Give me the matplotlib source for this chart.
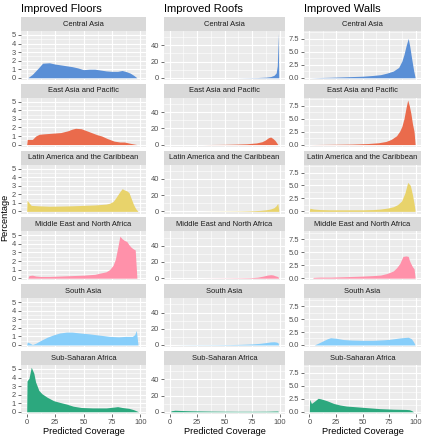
import matplotlib.pyplot as plt

plt.rcParams['font.family'] = ['Liberation Sans', 'DejaVu Sans']

regions = ["Central Asia", "East Asia and Pacific", "Latin America and the Caribbean",
           "Middle East and North Africa", "South Asia", "Sub-Saharan Africa"]
region_colors = ["#5A8FD6", "#EA6B4C", "#E8D36B", "#FF91AA", "#87CEFA", "#2CA87E"]

# ---- Improved Floors
fl_ca_x = [1, 5, 10, 14, 20, 25, 30, 35, 40, 45, 50, 55, 60, 65, 70, 75, 80, 84, 88, 91, 94, 97]
fl_ca_y = [0, 0.4, 1.1, 1.7, 1.75, 1.6, 1.5, 1.4, 1.3, 1.15, 0.95, 1.0, 1.0, 0.9, 0.8, 0.75, 0.75, 0.85, 0.7, 0.55, 0.3, 0]
fl_ea_x = [0, 0.5, 5, 8, 11, 15, 20, 25, 30, 36, 40, 43, 48, 53, 58, 62, 66, 71, 77, 82, 86, 91, 97]
fl_ea_y = [0, 0.6, 0.6, 1.0, 1.2, 1.25, 1.3, 1.35, 1.4, 1.6, 1.8, 1.9, 1.85, 1.6, 1.35, 1.15, 1.0, 0.7, 0.4, 0.3, 0.3, 0.15, 0]
fl_la_x = [0, 0.3, 2, 4, 10, 20, 30, 40, 50, 60, 65, 70, 73, 76, 78, 80, 82, 84, 86, 88, 90, 92, 94, 96, 98]
fl_la_y = [0, 1.3, 1.0, 0.7, 0.65, 0.6, 0.62, 0.65, 0.7, 0.75, 0.8, 0.85, 0.95, 1.15, 1.5, 1.9, 2.3, 2.65, 2.5, 2.4, 2.2, 1.5, 0.8, 0.3, 0]
fl_me_x = [1, 2, 5, 8, 12, 20, 30, 40, 50, 55, 60, 65, 70, 73, 76, 78, 80, 82, 84, 86, 88, 90, 92, 94, 95.5, 97]
fl_me_y = [0, 0.3, 0.35, 0.25, 0.2, 0.2, 0.25, 0.3, 0.35, 0.4, 0.45, 0.6, 0.75, 1.0, 1.5, 2.2, 3.5, 4.9, 4.6, 4.4, 4.3, 3.9, 3.6, 3.4, 3.3, 0]
fl_sa_x = [0, 0.5, 3, 5, 8, 12, 18, 24, 29, 35, 40, 47, 55, 64, 73, 81, 87, 93, 95, 96.5, 98]
fl_sa_y = [0, 0.35, 0.2, 0.05, 0.2, 0.5, 0.9, 1.2, 1.4, 1.5, 1.5, 1.4, 1.3, 1.15, 1.0, 0.95, 1.0, 1.0, 1.2, 1.7, 0]
fl_ssa_x = [0, 0.3, 2, 4, 6.3, 7.8, 10.7, 13.5, 18, 23.6, 29, 35, 41, 48, 58, 70, 77, 80, 84, 90, 94, 98.5]
fl_ssa_y = [0, 3.6, 3.9, 5.2, 4.5, 3.5, 2.5, 2.1, 1.7, 1.3, 1.1, 0.9, 0.65, 0.5, 0.45, 0.45, 0.55, 0.6, 0.5, 0.4, 0.25, 0]

# ---- Improved Roofs
rf_ca_x = [60, 80, 88, 92, 95, 97, 98, 98.8, 99.3]
rf_ca_y = [0, 0.3, 0.8, 1.5, 3, 6, 15, 55, 0]
rf_ea_x = [30, 50, 60, 70, 79, 84, 87, 90, 92, 94, 96, 97.5, 98.5]
rf_ea_y = [0, 0.3, 0.6, 1.0, 2.0, 3.5, 5.5, 8.5, 9.3, 7.5, 5, 2, 0]
rf_la_x = [30, 50, 65, 75, 82, 88, 92, 95, 97, 98.4, 99.5]
rf_la_y = [0, 0.2, 0.4, 0.7, 1.2, 2.0, 3.0, 4.5, 7, 10, 0]
rf_me_x = [30, 50, 65, 74, 80, 85, 89, 92, 94, 96, 98.4, 99.5]
rf_me_y = [0, 0.2, 0.4, 0.6, 1.2, 2.5, 3.8, 4.3, 4.0, 3.0, 2.0, 0]
rf_sa_x = [5, 20, 40, 55, 65, 75, 82, 88, 92, 95, 97, 98.5, 99.3]
rf_sa_y = [0, 0.2, 0.3, 0.5, 0.8, 1.3, 2.0, 3.0, 3.8, 4.0, 3.6, 3.0, 0]
rf_ssa_x = [1, 1.5, 5, 10, 20, 30, 40, 50, 60, 70, 80, 90, 95, 98.5, 99]
rf_ssa_y = [0, 1.2, 1.9, 1.6, 1.2, 1.0, 0.8, 0.7, 0.6, 0.6, 0.6, 0.7, 0.9, 1.0, 0]

# ---- Improved Walls
wl_ca_x = [0, 10, 20, 35, 50, 60, 67, 73, 79, 84, 87, 89, 91, 93, 94.5, 96, 98, 99.5]
wl_ca_y = [0, 0.05, 0.1, 0.2, 0.3, 0.45, 0.6, 0.9, 1.3, 2.0, 3.2, 4.5, 6.2, 7.6, 6.0, 4.0, 1.5, 0]
wl_ea_x = [0, 20, 40, 55, 65, 72, 77, 82, 85, 87, 89, 91, 92.5, 94, 95.5, 97, 98.5, 99.5]
wl_ea_y = [0, 0.05, 0.1, 0.2, 0.35, 0.6, 1.0, 1.7, 2.6, 3.5, 5.0, 7.2, 8.6, 7.5, 6.0, 4.0, 2.5, 0]
wl_la_x = [0, 0.5, 4, 10, 20, 35, 50, 60, 67, 74, 79, 83, 86.7, 89.8, 92.5, 95, 97, 98.5, 99.5]
wl_la_y = [0, 0.6, 0.45, 0.35, 0.3, 0.3, 0.3, 0.35, 0.45, 0.65, 0.9, 1.3, 2.0, 3.5, 5.6, 5.0, 3.2, 1.5, 0]
wl_me_x = [3, 4, 10, 20, 36, 50, 60, 67, 73, 79, 82, 85, 88, 91, 93, 94, 95, 97, 98.5, 99.5]
wl_me_y = [0, 0.15, 0.2, 0.2, 0.3, 0.4, 0.5, 0.6, 0.9, 1.4, 2.0, 2.8, 4.2, 4.3, 4.2, 3.5, 3.0, 2.2, 1.8, 0]
wl_sa_x = [4.6, 8, 11, 14, 17, 20, 25, 32, 40, 50, 60, 70, 76, 85, 90, 93, 96, 98, 99.5]
wl_sa_y = [0, 0.3, 0.6, 0.9, 1.2, 1.4, 1.3, 1.05, 0.95, 0.9, 0.9, 1.0, 1.1, 1.35, 1.45, 1.5, 1.2, 0.6, 0]
wl_ssa_x = [0, 0.3, 2, 4.6, 8.3, 10.8, 14, 17, 23, 29, 35, 41.7, 54, 66.7, 79, 91, 94, 96, 98]
wl_ssa_y = [0, 2.4, 1.6, 2.0, 2.6, 2.5, 2.3, 2.1, 1.6, 1.3, 1.1, 1.0, 0.8, 0.6, 0.5, 0.45, 0.4, 0.25, 0]

floors = [(fl_ca_x, fl_ca_y), (fl_ea_x, fl_ea_y), (fl_la_x, fl_la_y),
          (fl_me_x, fl_me_y), (fl_sa_x, fl_sa_y), (fl_ssa_x, fl_ssa_y)]
roofs = [(rf_ca_x, rf_ca_y), (rf_ea_x, rf_ea_y), (rf_la_x, rf_la_y),
         (rf_me_x, rf_me_y), (rf_sa_x, rf_sa_y), (rf_ssa_x, rf_ssa_y)]
walls = [(wl_ca_x, wl_ca_y), (wl_ea_x, wl_ea_y), (wl_la_x, wl_la_y),
         (wl_me_x, wl_me_y), (wl_sa_x, wl_sa_y), (wl_ssa_x, wl_ssa_y)]

x_ticks = [0, 25, 50, 75, 100]
x_minor = [12.5, 37.5, 62.5, 87.5]

W, H = 425, 440
fig = plt.figure(figsize=(W / 100, H / 100), dpi=100)


def box(left, top, right, bottom):
    return [left / W, 1 - bottom / H, (right - left) / W, (bottom - top) / H]


columns = [
    ("Improved Floors", floors, (21, 146), [0, 1, 2, 3, 4, 5], ["0", "1", "2", "3", "4", "5"],
     [0.5, 1.5, 2.5, 3.5, 4.5]),
    ("Improved Roofs", roofs, (164, 285), [0, 20, 40], ["0", "20", "40"], [10, 30, 50]),
    ("Improved Walls", walls, (304, 421), [0, 2.5, 5, 7.5], ["0.0", "2.5", "5.0", "7.5"],
     [1.25, 3.75, 6.25, 8.75]),
]

row_pitch = 66.8
panel_h = 49
strip_h = 14

for title, data, (left, right), yt, ytl, ymin in columns:
    ymax = max(max(y) for _, y in data)
    ylim = (-0.05 * ymax, 1.05 * ymax)
    fig.text(left / W, 1 - 9 / H, title, fontsize=8, va='center', ha='left', color='black')
    for r in range(6):
        top = 31 + row_pitch * r
        ax = fig.add_axes(box(left, top, right, top + panel_h))
        ax.set_facecolor('#EBEBEB')
        for v in x_minor:
            ax.axvline(v, color='white', lw=0.4, zorder=0)
        for v in ymin:
            ax.axhline(v, color='white', lw=0.4, zorder=0)
        for v in x_ticks:
            ax.axvline(v, color='white', lw=0.8, zorder=0)
        for v in yt:
            ax.axhline(v, color='white', lw=0.8, zorder=0)
        x, y = data[r]
        ax.fill_between(x, 0, y, color=region_colors[r], lw=0, zorder=2)
        ax.set_xlim(-5, 105)
        ax.set_ylim(*ylim)
        for s in ax.spines.values():
            s.set_visible(False)
        ax.set_yticks(yt)
        ax.set_yticklabels(ytl)
        ax.set_xticks(x_ticks)
        ax.tick_params(length=2, width=0.5, color='#333333', labelsize=5.4,
                       labelcolor='#4D4D4D', pad=1.5)
        if r < 5:
            ax.set_xticklabels([])
            ax.tick_params(axis='x', length=0)
        sax = fig.add_axes(box(left, top - strip_h, right, top))
        sax.set_facecolor('#D9D9D9')
        sax.set_xticks([])
        sax.set_yticks([])
        for s in sax.spines.values():
            s.set_visible(False)
        sax.text(0.5, 0.5, regions[r], transform=sax.transAxes, ha='center', va='center',
                 fontsize=5.4, color='#1A1A1A')
    fig.text((left + right) / 2 / W, 1 - 431 / H, "Predicted Coverage", fontsize=6.7,
             ha='center', va='center')

fig.text(5 / W, 1 - 217 / H, "Percentage", fontsize=6.7, rotation=90, ha='center', va='center')

fig.savefig('out.png', dpi=100)
